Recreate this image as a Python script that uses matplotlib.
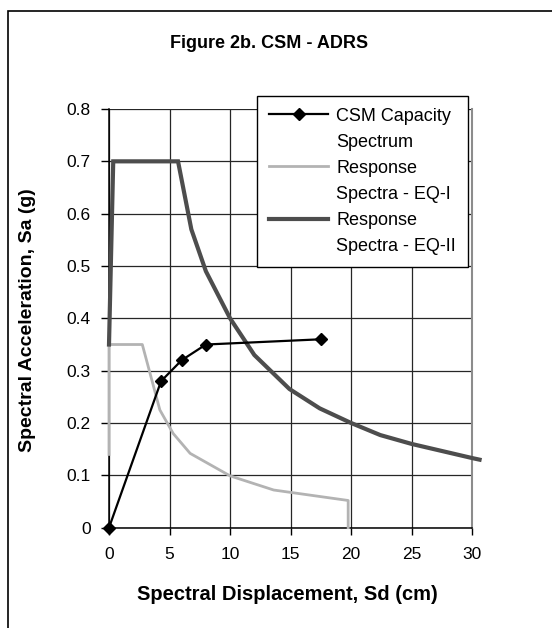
import matplotlib
matplotlib.use("Agg")
import matplotlib.pyplot as plt
from matplotlib.lines import Line2D
from matplotlib.patches import Rectangle

plt.rcParams['font.family'] = ['Liberation Sans', 'DejaVu Sans']

# Capacity spectrum (Sd in cm, Sa in g)
csm_sd = [0.0, 4.3, 6.0, 8.0, 17.5]
csm_sa = [0.0, 0.28, 0.32, 0.35, 0.36]

# Response spectrum, EQ-I
eq1_sd = [0.0, 0.0, 2.75, 4.2, 5.3, 6.7, 10.0, 13.6, 19.75, 19.75]
eq1_sa = [0.14, 0.35, 0.35, 0.225, 0.18, 0.142, 0.099, 0.072, 0.052, 0.0]

# Response spectrum, EQ-II
eq2_sd = [0.0, 0.35, 5.7, 6.8, 8.0, 10.0, 12.0, 14.9, 17.4, 20.0, 22.4, 25.0, 30.0, 30.6]
eq2_sa = [0.35, 0.70, 0.70, 0.57, 0.49, 0.40, 0.33, 0.265, 0.228, 0.20, 0.177, 0.16, 0.133, 0.13]

x_ticks = [0, 5, 10, 15, 20, 25, 30]
y_ticks = [0.0, 0.1, 0.2, 0.3, 0.4, 0.5, 0.6, 0.7, 0.8]
y_tick_labels = ["0", "0.1", "0.2", "0.3", "0.4", "0.5", "0.6", "0.7", "0.8"]

W, H = 552, 628
fig = plt.figure(figsize=(W / 100, H / 100), dpi=100)
ax = fig.add_axes([109 / W, 1 - 527.7 / H, (472.3 - 109) / W, (527.7 - 109) / H])

ax.set_xlim(0, 30)
ax.set_ylim(0, 0.8)
ax.set_xticks(x_ticks)
ax.set_xticklabels([str(v) for v in x_ticks])
ax.set_yticks(y_ticks)
ax.set_yticklabels(y_tick_labels)
ax.grid(True, color='#262626', lw=0.9)
ax.set_axisbelow(True)

for side in ('left', 'bottom'):
    ax.spines[side].set_color('black')
    ax.spines[side].set_linewidth(1.1)
ax.spines['top'].set_visible(False)
ax.spines['right'].set_color('#8c8c8c')
ax.spines['right'].set_linewidth(1.5)

ax.tick_params(axis='y', direction='out', length=6, width=1, pad=7, labelsize=12.5)
ax.tick_params(axis='x', direction='out', length=5, width=1, pad=9, labelsize=12.5)

eq1_color = '#b3b3b3'
eq2_color = '#4d4d4d'
ax.plot(eq1_sd, eq1_sa, color=eq1_color, lw=2.0, zorder=3, clip_on=False)
ax.plot(eq2_sd, eq2_sa, color=eq2_color, lw=3.0, zorder=3, clip_on=False,
        solid_joinstyle='miter')
ax.plot(csm_sd, csm_sa, color='black', lw=1.6, marker='D', ms=6, zorder=5, clip_on=False)

h_csm = Line2D([], [], color='black', lw=1.6, marker='D', ms=6)
h_eq1 = Line2D([], [], color=eq1_color, lw=2.0)
h_eq2 = Line2D([], [], color=eq2_color, lw=3.0)
h_none = Line2D([], [], color='none')
leg = ax.legend([h_csm, h_none, h_eq1, h_none, h_eq2, h_none],
                ['CSM Capacity', 'Spectrum', 'Response', 'Spectra - EQ-I',
                 'Response', 'Spectra - EQ-II'],
                loc='upper left', bbox_to_anchor=((257 - 109) / 363.3, (527.7 - 96) / 418.7),
                fontsize=13, handlelength=3.3, handletextpad=0.45, labelspacing=0.5,
                borderpad=0.65, borderaxespad=0, fancybox=False, framealpha=1,
                edgecolor='black')
leg.get_frame().set_linewidth(1.0)
leg.set_zorder(10)

fig.text(269.5 / W, 1 - 43 / H, 'Figure 2b. CSM - ADRS', ha='center', va='center',
         fontsize=13, fontweight='bold')
fig.text(287 / W, 1 - 594 / H, 'Spectral Displacement, Sd (cm)', ha='center', va='center',
         fontsize=14.5, fontweight='bold')
fig.text(28 / W, 1 - 320 / H, 'Spectral Acceleration, Sa (g)', ha='center', va='center',
         fontsize=14, fontweight='bold', rotation=90)

fig.add_artist(Rectangle((8 / W, -0.05), 1.1, (1 - 11 / H) + 0.05, transform=fig.transFigure,
                         fill=False, ec='black', lw=1.2))

fig.savefig('out.png', dpi=100)
